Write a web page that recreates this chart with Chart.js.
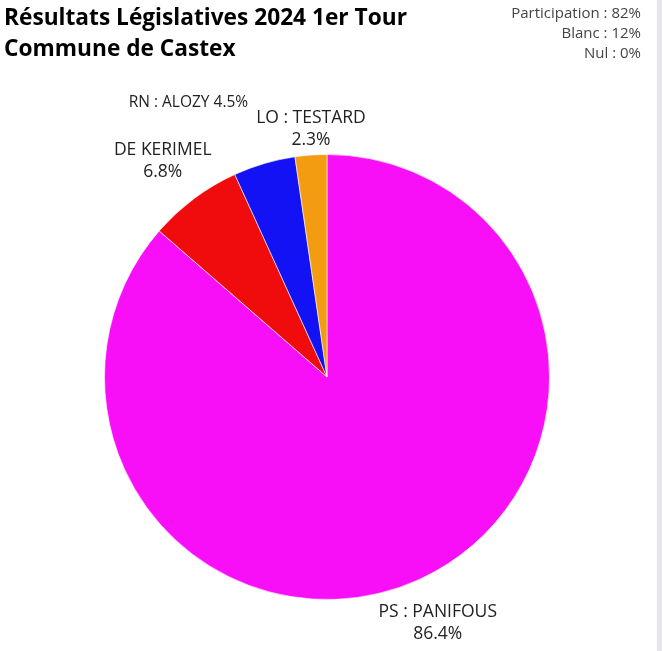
<!DOCTYPE html>
<html>
<head>
<meta charset="utf-8">
<script src="https://cdn.jsdelivr.net/npm/chart.js@4"></script>
<style>
    body { margin: 0; background: #fff; font-family: 'Open Sans', sans-serif; }
    #wrap { position: relative; width: 662px; height: 651px; overflow: hidden; }
    #title { position: absolute; left: 4px; top: 1px; font-weight: bold; font-size: 22.7px; line-height: 31px; color: #000; }
    #stats { position: absolute; right: 21px; top: 2px; font-size: 15px; line-height: 20px; color: #444; text-align: right; }
    #scroll { position: absolute; right: 0; top: 0; width: 5px; height: 651px; background: #e6e6ea; }
    canvas { position: absolute; left: 0; top: 0; }
</style>
</head>
<body>
<div id="wrap">
    <canvas id="pieChart" width="662" height="651"></canvas>
    <div id="title">Résultats Législatives 2024 1er Tour<br>Commune de Castex</div>
    <div id="stats">Participation : 82%<br>Blanc : 12%<br>Nul : 0%</div>
    <div id="scroll"></div>
</div>
<script>
const candidates = ['PS : PANIFOUS', 'DE KERIMEL', 'RN : ALOZY', 'LO : TESTARD'];
const percents = [86.4, 6.8, 4.5, 2.3];
const colors = ['#f80ff8', '#f00c0c', '#1212f5', '#f39c12'];
const oneLine = [false, false, true, false];

// the small slice labels get squeezed / pushed around like in the original
const labelSize = [17.5, 17.5, 15.5, 17.5];
const labelShift = [[-6, 23], [-2, -20], [-59, -50], [4, -4]];

const outLabels = {
    id: 'outLabels',
    afterDatasetsDraw(chart) {
        const ctx = chart.ctx;
        const meta = chart.getDatasetMeta(0);
        ctx.save();
        ctx.fillStyle = '#222';
        ctx.textAlign = 'center';
        ctx.textBaseline = 'middle';
        meta.data.forEach((arc, i) => {
            const p = arc.getProps(['x', 'y', 'startAngle', 'endAngle', 'outerRadius'], true);
            const mid = (p.startAngle + p.endAngle) / 2;
            const pct = percents[i].toFixed(1) + '%';
            const lines = oneLine[i] ? [candidates[i] + ' ' + pct] : [candidates[i], pct];
            ctx.font = labelSize[i] + 'px "Open Sans"';
            const w = Math.max(...lines.map(l => ctx.measureText(l).width));
            const lh = 22;
            const h = lines.length * lh;
            const cx = p.x + Math.cos(mid) * (p.outerRadius + w / 2) + labelShift[i][0];
            const cy = p.y + Math.sin(mid) * (p.outerRadius + h / 2) + labelShift[i][1];
            lines.forEach((l, k) => {
                ctx.fillText(l, cx, cy - h / 2 + lh / 2 + k * lh);
            });
        });
        ctx.restore();
    }
};

new Chart(document.getElementById('pieChart'), {
    type: 'pie',
    data: {
        labels: candidates,
        datasets: [{
            data: percents,
            backgroundColor: colors,
            borderColor: 'rgba(255,255,255,0.6)',
            borderWidth: 1
        }]
    },
    options: {
        responsive: false,
        animation: false,
        layout: { padding: { left: 104, right: 112, top: 154, bottom: 51 } },
        plugins: {
            legend: { display: false },
            tooltip: { enabled: false }
        }
    },
    plugins: [outLabels]
});
</script>
</body>
</html>
